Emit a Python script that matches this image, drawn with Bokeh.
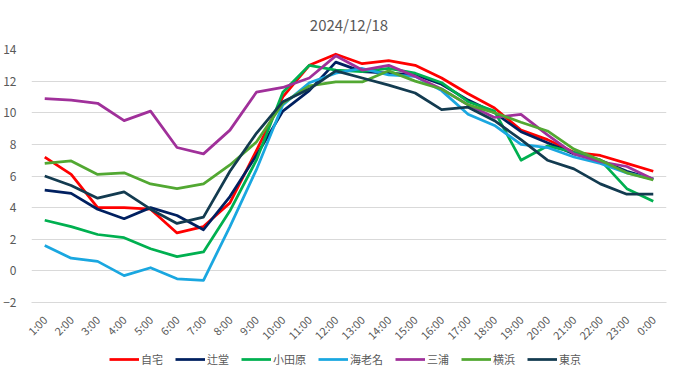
import math
from bokeh.plotting import figure
from bokeh.layouts import column
from bokeh.models import (FactorRange, Range1d, FixedTicker, Legend, LegendItem,
                          ColumnDataSource)
from bokeh.embed import file_html
from bokeh.resources import INLINE

hours = ["1:00", "2:00", "3:00", "4:00", "5:00", "6:00", "7:00", "8:00", "9:00", "10:00",
         "11:00", "12:00", "13:00", "14:00", "15:00", "16:00", "17:00", "18:00", "19:00",
         "20:00", "21:00", "22:00", "23:00", "0:00"]

jitaku = [7.2, 6.1, 4.0, 4.0, 3.9, 2.4, 2.8, 4.3, 7.6, 11.0, 13.0, 13.7, 13.1, 13.3, 13.0, 12.2,
          11.2, 10.3, 8.9, 8.3, 7.5, 7.3, 6.8, 6.3]
tsujido = [5.1, 4.9, 3.9, 3.3, 4.0, 3.5, 2.6, 4.7, 7.3, 10.1, 11.4, 13.2, 12.6, 12.5, 12.4, 11.8,
           10.8, 10.0, 8.8, 8.1, 7.4, 7.0, 6.3, 5.8]
odawara = [3.2, 2.8, 2.3, 2.1, 1.4, 0.9, 1.2, 3.8, 7.0, 11.3, 13.0, 12.7, 12.6, 12.8, 12.5, 11.9,
           10.7, 10.1, 7.0, 7.9, 7.5, 7.0, 5.2, 4.4]
ebina = [1.6, 0.8, 0.6, -0.3, 0.2, -0.5, -0.6, 2.8, 6.4, 10.5, 11.9, 12.5, 12.8, 12.4, 12.3, 11.4,
         9.9, 9.2, 8.0, 7.8, 7.2, 6.8, 6.2, 5.8]
miura = [10.9, 10.8, 10.6, 9.5, 10.1, 7.8, 7.4, 8.9, 11.3, 11.6, 12.2, 13.6, 12.7, 13.0, 12.3, 11.5,
         10.5, 9.7, 9.9, 8.6, 7.4, 6.9, 6.6, 5.8]
yokohama = [6.8, 6.95, 6.1, 6.2, 5.5, 5.2, 5.5, 6.7, 8.15, 10.6, 11.7, 11.95, 11.95, 12.65, 12.0, 11.5,
            10.5, 10.0, 9.4, 8.85, 7.7, 7.0, 6.2, 5.75]
tokyo = [6.0, 5.4, 4.6, 5.0, 3.9, 3.0, 3.4, 6.3, 8.7, 10.7, 11.5, 12.65, 12.2, 11.75, 11.25, 10.2,
         10.35, 9.5, 8.3, 7.0, 6.45, 5.5, 4.85, 4.85]

names = ["自宅", "辻堂", "小田原", "海老名", "三浦", "横浜", "東京"]
series = [jitaku, tsujido, odawara, ebina, miura, yokohama, tokyo]
colors = ["#FF0000", "#002060", "#00B050", "#1AA7E0", "#A0309A", "#52A832", "#133B50"]

y_ticks = [-2, 0, 2, 4, 6, 8, 10, 12, 14]

FONT = "Noto Sans CJK JP"
GREY = "#595959"
LW = 2.75

p = figure(x_range=FactorRange(factors=hours), y_range=Range1d(-2, 14),
           frame_width=635, frame_height=253, output_backend="svg", toolbar_location=None,
           min_border_left=24, min_border_right=6, min_border_top=49, min_border_bottom=30,
           title="2024/12/18")

p.title.align = "center"
p.title.vertical_align = "top"
p.title.text_font = FONT
p.title.text_font_size = "15px"
p.title.text_font_style = "normal"
p.title.text_color = GREY
p.title.standoff = 26

p.outline_line_color = None
p.xgrid.visible = False
p.ygrid.grid_line_color = "#D9D9D9"
p.ygrid.grid_line_width = 1

p.yaxis.ticker = FixedTicker(ticks=y_ticks)
p.yaxis.axis_line_color = None
p.yaxis.major_tick_line_color = None
p.yaxis.minor_tick_line_color = None
p.yaxis.major_label_text_font = FONT
p.yaxis.major_label_text_font_size = "12px"
p.yaxis.major_label_text_color = GREY
p.yaxis.major_label_standoff = 9

p.xaxis.axis_line_color = "#D9D9D9"
p.xaxis.major_tick_line_color = None
p.xaxis.minor_tick_line_color = None
p.xaxis.major_label_orientation = math.pi / 4
p.xaxis.major_label_text_font = FONT
p.xaxis.major_label_text_font_size = "11px"
p.xaxis.major_label_text_color = GREY
p.xaxis.major_label_standoff = 9

for vals, col in zip(series, colors):
    src = ColumnDataSource(dict(x=hours, y=vals))
    p.line("x", "y", source=src, line_color=col, line_width=LW, line_join="round")

# legend strip below the chart (proxy lines lie outside its visible range)
lg = figure(width=665, height=29, output_backend="svg", toolbar_location=None,
            x_range=Range1d(-100, -99), y_range=Range1d(-100, -99), min_border=0)
lg.axis.visible = False
lg.grid.visible = False
lg.outline_line_color = None
items = []
for name, vals, col in zip(names, series, colors):
    r = lg.line(x=list(range(len(vals))), y=vals, line_color=col, line_width=LW)
    items.append(LegendItem(label=name, renderers=[r]))
legend = Legend(items=items, orientation="horizontal", location="top_center",
                glyph_width=30, glyph_height=16, label_standoff=2, spacing=12,
                padding=0, margin=0, border_line_color=None, background_fill_alpha=0,
                label_text_font=FONT, label_text_font_size="11px", label_text_color=GREY)
lg.add_layout(legend, "center")

layout = column(p, lg, spacing=0)
open("out.html", "w").write(file_html(layout, INLINE))
